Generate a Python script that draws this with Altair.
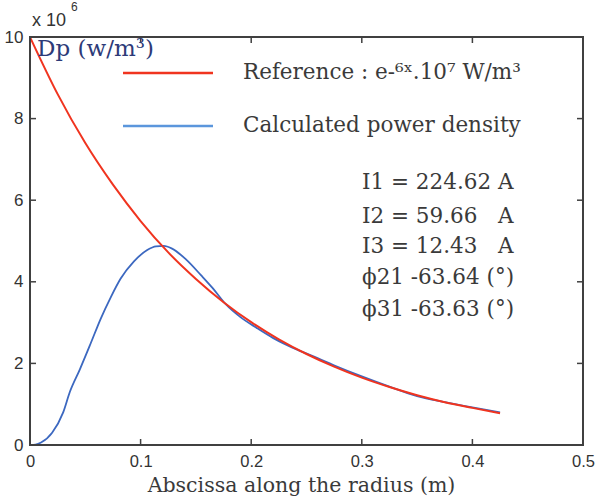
import altair as alt
import pandas as pd

# Reference profile e^(-6x)·10^7 W/m3, values in units of 10^6
ref_x = [0, 0.025, 0.05, 0.075, 0.1, 0.125, 0.15, 0.175, 0.2, 0.225, 0.25,
         0.275, 0.3, 0.325, 0.35, 0.375, 0.4, 0.425]
ref_y = [10.0, 8.6, 7.4, 6.38, 5.49, 4.72, 4.07, 3.5, 3.01, 2.59, 2.23,
         1.92, 1.65, 1.42, 1.22, 1.05, 0.91, 0.78]

# Calculated power density along the radius
calc_x = [0, 0.005, 0.01, 0.02, 0.03, 0.036, 0.045, 0.055, 0.064, 0.073, 0.082,
          0.094, 0.106, 0.114, 0.121, 0.128, 0.141, 0.155, 0.165, 0.177, 0.19,
          0.205, 0.22, 0.242, 0.26, 0.277, 0.3, 0.325, 0.35, 0.375, 0.4, 0.425]
calc_y = [0, 0.01, 0.06, 0.3, 0.8, 1.3, 1.85, 2.5, 3.1, 3.62, 4.08,
          4.5, 4.78, 4.87, 4.88, 4.82, 4.55, 4.15, 3.85, 3.45, 3.14,
          2.87, 2.62, 2.33, 2.13, 1.93, 1.68, 1.43, 1.2, 1.05, 0.92, 0.8]

x_ticks = [0.1, 0.2, 0.3, 0.4]
y_ticks = [2, 4, 6, 8]

NB = "\u00a0"
legend_labels = ["Reference : e-⁶ˣ.10⁷ W/m³", "Calculated power density"]
notes = ["I1 = 224.62 A", f"I2 = 59.66{NB*3}A", f"I3 = 12.43{NB*3}A",
         "ϕ21 -63.64 (°)", "ϕ31 -63.63 (°)"]

W, H = 553, 408
RED = "#f0341f"
BLUE = "#3c68c0"
FRAME = "#404040"
TXT = "#3a3a3a"
SERIF = "DejaVu Serif"
SANS = "Liberation Sans"

ref_df = pd.DataFrame({"x": ref_x, "y": ref_y})
calc_df = pd.DataFrame({"x": calc_x, "y": calc_y})

xs = alt.Scale(domain=[0, 0.5], nice=False)
ys = alt.Scale(domain=[0, 10], nice=False)

x_enc = alt.X("x:Q", scale=xs, axis=alt.Axis(
    values=[0, 0.1, 0.2, 0.3, 0.4, 0.5], format="~g", grid=False, ticks=False,
    domain=False, labelFont=SANS, labelFontSize=16.5, labelColor="#333",
    labelPadding=8, labelFlush=False,
    title="Abscissa along the radius (m)", titleFont=SERIF, titleFontSize=20.5,
    titleFontWeight="normal", titleColor=TXT, titleX=271, titleY=46,
    titleBaseline="alphabetic"))
y_enc = alt.Y("y:Q", scale=ys, axis=alt.Axis(
    values=[0, 2, 4, 6, 8, 10], grid=False, ticks=False, domain=False,
    labelFont=SANS, labelFontSize=17, labelColor="#333", labelPadding=7,
    labelFlush=False, title=None))

calc_line = alt.Chart(calc_df).mark_line(
    color=BLUE, strokeWidth=1.8, interpolate="monotone").encode(x=x_enc, y=y_enc)
ref_line = alt.Chart(ref_df).mark_line(
    color=RED, strokeWidth=2, interpolate="monotone").encode(x="x:Q", y="y:Q")

# plot frame
frame = alt.Chart(pd.DataFrame({"k": [0]})).mark_rect(
    fillOpacity=0, stroke=FRAME, strokeWidth=2).encode(
    x=alt.value(0), x2=alt.value(W), y=alt.value(0), y2=alt.value(H))

# inward ticks on all four sides
xt = pd.DataFrame({"x": x_ticks})
yt = pd.DataFrame({"y": y_ticks})
tick_style = dict(color=FRAME, strokeWidth=1.5)
bottom_ticks = alt.Chart(xt).mark_rule(**tick_style).encode(
    x="x:Q", y=alt.value(H), y2=alt.value(H - 6))
top_ticks = alt.Chart(xt).mark_rule(**tick_style).encode(
    x="x:Q", y=alt.value(0), y2=alt.value(6))
left_ticks = alt.Chart(yt).mark_rule(**tick_style).encode(
    y="y:Q", x=alt.value(0), x2=alt.value(6))
right_ticks = alt.Chart(yt).mark_rule(**tick_style).encode(
    y="y:Q", x=alt.value(W), x2=alt.value(W - 6))

# legend
leg_df = pd.DataFrame({"label": legend_labels, "py": [36, 89],
                       "c": [RED, "#5b96dc"]})
leg_lines = alt.Chart(leg_df).mark_rule(strokeWidth=2.5).encode(
    x=alt.value(93), x2=alt.value(183), y=alt.Y("py:Q", scale=None),
    color=alt.Color("c:N", scale=None))
leg_text = alt.Chart(leg_df).mark_text(
    align="left", baseline="middle", font=SERIF, fontSize=21.5, color=TXT).encode(
    x=alt.value(213), y=alt.Y("py:Q", scale=None), text="label:N")

notes_df = pd.DataFrame({"t": notes, "py": [146, 180, 210, 241, 273]})
notes_text = alt.Chart(notes_df).mark_text(
    align="left", baseline="middle", font=SERIF, fontSize=21.5, color=TXT).encode(
    x=alt.value(332), y=alt.Y("py:Q", scale=None), text="t:N")

dp_text = alt.Chart(pd.DataFrame({"t": ["Dp (w/m³)"]})).mark_text(
    align="left", baseline="middle", font=SERIF, fontSize=23, color="#2d3a78").encode(
    x=alt.value(7), y=alt.value(12), text="t:N")

exp_text = alt.Chart(pd.DataFrame({"t": ["x 10"]})).mark_text(
    align="left", baseline="middle", font=SANS, fontSize=18, color="#333").encode(
    x=alt.value(2), y=alt.value(-16), text="t:N")
exp_sup = alt.Chart(pd.DataFrame({"t": ["6"]})).mark_text(
    align="left", baseline="middle", font=SANS, fontSize=12, color="#333").encode(
    x=alt.value(41), y=alt.value(-30), text="t:N")

chart = alt.layer(
    calc_line, ref_line, frame, bottom_ticks, top_ticks, left_ticks, right_ticks,
    leg_lines, leg_text, notes_text, dp_text, exp_text, exp_sup
).properties(
    width=W, height=H, background="white",
    autosize=alt.AutoSizeParams(type="none"),
    padding={"left": 30, "top": 37, "right": 19, "bottom": 51},
).configure_view(stroke=None)

chart.save("out.html", embed_options={"renderer": "svg", "actions": False})
